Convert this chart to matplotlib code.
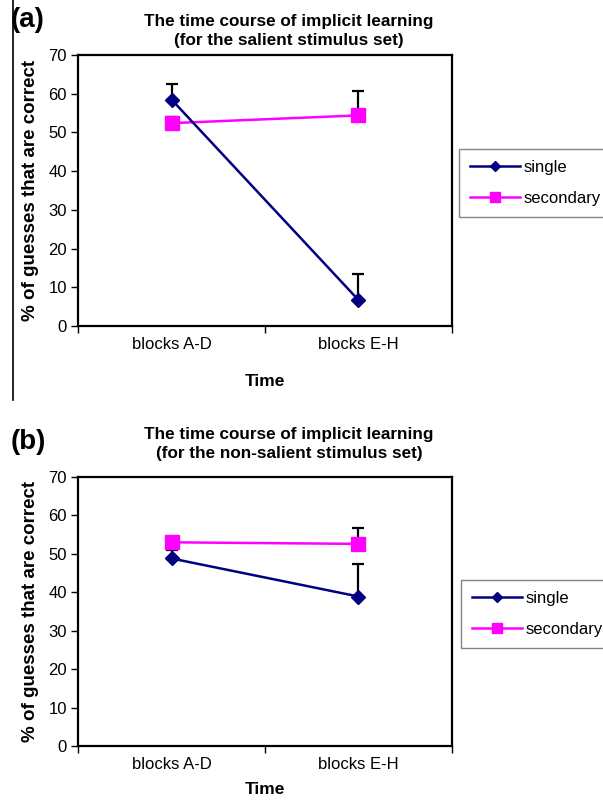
import numpy as np
import matplotlib.pyplot as plt
from matplotlib.lines import Line2D

plt.rcParams['font.family'] = ['Liberation Sans', 'DejaVu Sans']

# -----------------------------
# Data
# -----------------------------
categories = ["blocks A-D", "blocks E-H"]
series = ["single", "secondary"]

# panel (a): salient stimulus set
a_single = [58.5, 6.7]
a_single_err = [3.9, 6.7]
a_secondary = [52.4, 54.4]
a_secondary_err = [1.6, 6.2]

# panel (b): non-salient stimulus set
b_single = [48.8, 38.9]
b_single_err = [2.1, 8.5]
b_secondary = [53.0, 52.6]
b_secondary_err = [1.5, 4.1]

yticks = np.arange(0, 71, 10)

W, H = 603, 801
fig = plt.figure(figsize=(W / 100, H / 100), dpi=100)


def px_axes(left, top, right, bottom):
    return fig.add_axes([left / W, 1 - bottom / H, (right - left) / W, (bottom - top) / H])


def draw_panel(ax, single, single_err, secondary, secondary_err, xlabelpad):
    x = np.arange(1, len(categories) + 1)
    ax.errorbar(x, single, yerr=[np.zeros(len(x)), single_err], fmt='none',
                ecolor='black', elinewidth=1.6, capsize=4.2, capthick=1.6, zorder=1)
    ax.errorbar(x, secondary, yerr=[np.zeros(len(x)), secondary_err], fmt='none',
                ecolor='black', elinewidth=1.6, capsize=4.2, capthick=1.6, zorder=1)
    ax.plot(x, single, color='#000080', marker='D', markersize=7.5, lw=1.8, zorder=3)
    ax.plot(x, secondary, color='#ff00ff', marker='s', markersize=9.5, lw=1.8, zorder=2)
    ax.set_xlim(0.5, len(categories) + 0.5)
    ax.set_ylim(0, 70)
    ax.set_yticks(yticks)
    ax.tick_params(axis='y', labelsize=12, length=5, width=1, direction='out', pad=3)
    ax.set_xticks(np.arange(0.5, len(categories) + 1, 1))
    ax.set_xticklabels([])
    ax.set_xticks(x, minor=True)
    ax.set_xticklabels(categories, minor=True)
    ax.tick_params(axis='x', which='major', length=5, width=1, direction='out')
    ax.tick_params(axis='x', which='minor', length=0, labelsize=12, pad=8)
    for s in ax.spines.values():
        s.set_linewidth(1.6)
    ax.set_ylabel("% of guesses that are correct", fontsize=13.5, fontweight='bold', labelpad=7)
    ax.set_xlabel("Time", fontsize=12.5, fontweight='bold', labelpad=xlabelpad)


handles = [
    Line2D([], [], color='#000080', marker='D', markersize=5.5, lw=1.8),
    Line2D([], [], color='#ff00ff', marker='s', markersize=7.5, lw=1.8),
]

legend_kw = dict(loc='upper left', fontsize=12, frameon=True, fancybox=False,
                 edgecolor='#666666', handlelength=3.0, borderpad=0.65, labelspacing=0.95,
                 handletextpad=0.2, borderaxespad=0)

# -----------------------------
# Panel (a)
# -----------------------------
ax_a = px_axes(78, 55, 452, 326)
draw_panel(ax_a, a_single, a_single_err, a_secondary, a_secondary_err, xlabelpad=16)
fig.text(289 / W, 1 - 31 / H, "The time course of implicit learning\n(for the salient stimulus set)",
         ha='center', va='center', fontsize=12.3, fontweight='bold', linespacing=1.3)
fig.text(11 / W, 1 - 20 / H, "(a)", ha='left', va='center', fontsize=20, fontweight='bold')
leg_a = fig.legend(handles, series, bbox_to_anchor=(459 / W, 1 - 149 / H), **legend_kw)
leg_a.get_frame().set_linewidth(1.0)

# -----------------------------
# Panel (b)
# -----------------------------
ax_b = px_axes(78, 477, 452, 746)
draw_panel(ax_b, b_single, b_single_err, b_secondary, b_secondary_err, xlabelpad=7)
fig.text(289 / W, 1 - 444 / H, "The time course of implicit learning\n(for the non-salient stimulus set)",
         ha='center', va='center', fontsize=12.3, fontweight='bold', linespacing=1.3)
fig.text(11 / W, 1 - 442 / H, "(b)", ha='left', va='center', fontsize=20, fontweight='bold')
leg_b = fig.legend(handles, series, bbox_to_anchor=(461 / W, 1 - 580 / H), **legend_kw)
leg_b.get_frame().set_linewidth(1.0)

# left border line of panel (a)
fig.add_artist(Line2D([13 / W, 13 / W], [1 - 400 / H, 1.0], color='black', lw=1.2))

plt.savefig("out.png", dpi=100)
